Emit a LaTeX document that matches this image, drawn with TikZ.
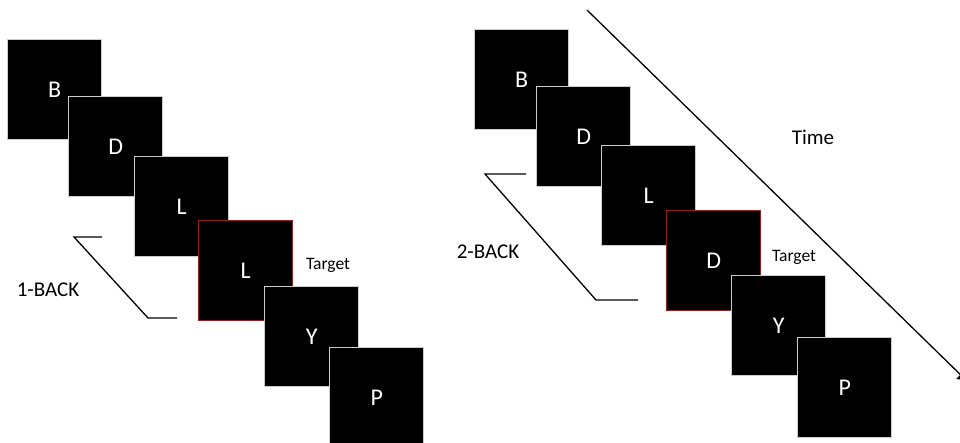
\documentclass[tikz,border=0pt]{standalone}
\usepackage{fontspec}
\setmainfont{Carlito}
\usetikzlibrary{arrows.meta}
\begin{document}
\begin{tikzpicture}[x=1pt,y=-1pt,
  card/.style={draw=gray!40, line width=1.4pt, fill=black, text=white,
    minimum width=94pt, minimum height=100pt, inner sep=0pt,
    font=\fontsize{24}{24}\selectfont, anchor=north west},
  tcard/.style={card, draw=red!85!black},
  lbl/.style={font=\fontsize{21}{21}\selectfont, inner sep=0pt},
  tlbl/.style={font=\fontsize{17.5}{17.5}\selectfont, inner sep=0pt},
  brk/.style={line width=1.3pt, black}]
\useasboundingbox (0,0) rectangle (960,442);
\clip (0,0) rectangle (960,442);
% left panel: 1-back
\node[card]  (lB)  at (7,39)    {B};
\node[card]  (lD)  at (68,96)   {D};
\node[card]  (lL)  at (134,156) {L};
\node[tcard] (lL2) at (198,220) {L};
\node[card]  (lY)  at (264,286) {Y};
\node[card]  (lP)  at (329,347) {P};
\node[tlbl] (lT) at (328,265) {Target};
\node[lbl] (l1) at (48,290) {1-BACK};
\draw[brk] (102,237) -- (74,237) -- (148,318) -- (177,318);
% right panel: 2-back
\node[card]  (rB)  at (474,29)  {B};
\node[card]  (rD)  at (536,86)  {D};
\node[card]  (rL)  at (601,145) {L};
\node[tcard] (rD2) at (666,210) {D};
\node[card]  (rY)  at (731,275) {Y};
\node[card]  (rP)  at (797,337) {P};
\node[tlbl] (rT) at (794,257) {Target};
\node[lbl] (r2) at (488,252) {2-BACK};
\draw[brk] (526,174) -- (485,174) -- (596,300) -- (638,300);
% time arrow
\coordinate (ts) at (587,10);
\coordinate (te) at (969,383);
\draw[line width=1.3pt, -{Latex[length=12pt,width=12pt]}] (ts) -- (te);
\node[lbl] (time) at (813,137) {Time};
\end{tikzpicture}
\end{document}
